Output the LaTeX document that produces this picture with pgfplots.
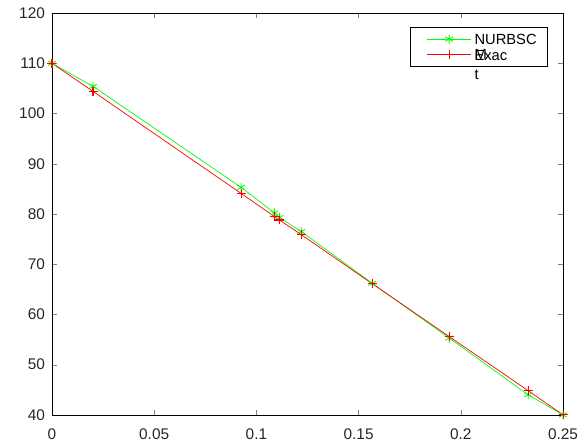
\documentclass[border=0pt]{standalone}
\usepackage{fontspec}
\setmainfont{Liberation Sans}
\usepackage{pgfplots}
\pgfplotsset{compat=1.18}
\begin{document}
\begin{tikzpicture}
\begin{axis}[
  name=ax,
  scale only axis,
  width=365pt, height=287pt,
  xmin=0, xmax=0.25, ymin=40, ymax=120,
  xtick={0,0.05,0.1,0.15,0.2,0.25},
  ytick={40,50,60,70,80,90,100,110,120},
  xticklabels={0,0.05,0.1,0.15,0.2,0.25},
  tick align=inside, tick pos=both,
  major tick length=3.5pt,
  /pgf/number format/assume math mode=true,
  tick label style={font=\fontsize{11}{13}\selectfont, text=black!85},
  xticklabel style={yshift=-6.5pt},
  yticklabel style={xshift=-1.5pt},
  axis line style={black, line width=0.5pt},
  legend style={at={(0.970,0.965)}, anchor=north east, draw=black, line width=0.5pt,
    font=\fontsize{10.5}{11}\selectfont, inner xsep=6pt, inner ysep=2.8pt, row sep=0pt,
    nodes={inner sep=1pt, text height=8.5pt, text depth=0.5pt},
    cells={anchor=west}},
  legend image code/.code={\path (0cm,0cm); \draw[mark repeat=2,mark phase=2] plot coordinates {(0.2cm,0cm) (0.76cm,0cm) (1.32cm,0cm)};},
  clip=false,
]
\addplot[color=green, line width=0.5pt, mark=asterisk, mark size=3.2pt, mark options={line width=0.6pt}] coordinates {
(0,110) (0.0201,105.4) (0.0925,85.3) (0.1088,80.2) (0.1113,79.3) (0.1219,76.5) (0.1567,66.2) (0.1943,55.3) (0.233,44.0) (0.25,40)
};
\addlegendentry{\makebox[46pt][l]{\hspace{1pt}\rlap{\raisebox{-10.7pt}[0pt][0pt]{M}}NURBSC}}
\addplot[color=red, line width=0.5pt, mark=+, mark size=3.2pt, mark options={line width=0.8pt}] coordinates {
(0,110) (0.0201,104.4) (0.0925,84.1) (0.1088,79.5) (0.1113,78.8) (0.1219,75.9) (0.1567,66.1) (0.1943,55.6) (0.233,44.8) (0.25,40)
};
\addlegendentry{\makebox[46pt][l]{\hspace{1pt}\rlap{\raisebox{-14pt}[0pt][0pt]{t}}Exac}}
\end{axis}
\pgfresetboundingbox
\path (ax.south west) ++(-37.1pt,-22.9pt) rectangle (ax.north east) ++(17.1pt,9.3pt);
\end{tikzpicture}
\end{document}
